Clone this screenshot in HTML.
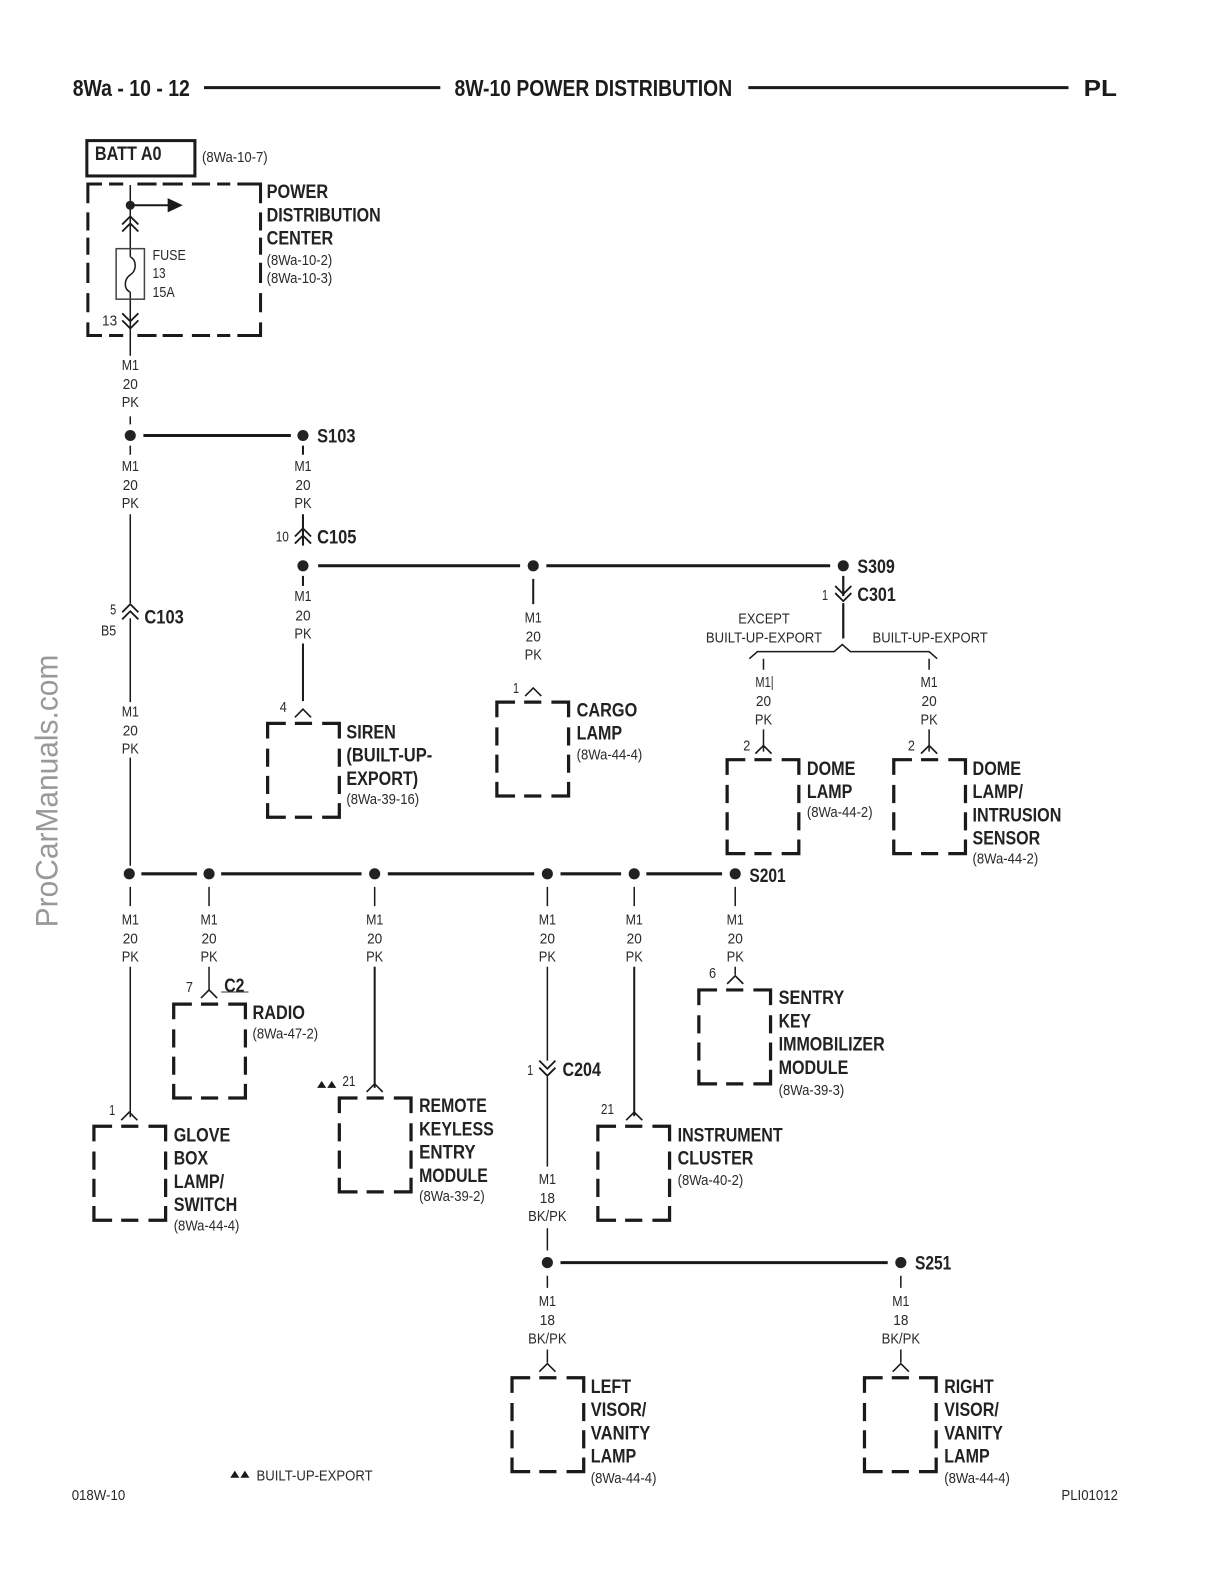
<!DOCTYPE html>
<html><head><meta charset="utf-8"><style>
html,body{margin:0;padding:0;background:#fff}
svg{display:block}
text{font-family:"Liberation Sans",sans-serif;fill:#2a2a2a;font-size:15px}
.b{font-weight:bold;font-size:19.5px;fill:#222}
.h{font-weight:bold;font-size:23px;fill:#1c1c1c}
.w{fill:none;stroke:#1a1a1a;stroke-width:1.5}
.w2{fill:none;stroke:#1a1a1a;stroke-width:2}
.t{fill:none;stroke:#1a1a1a;stroke-width:3}
.d{fill:#222}
</style></head><body>
<svg xmlns="http://www.w3.org/2000/svg" width="1224" height="1584" viewBox="0 0 1212 1568">
<defs>
<path id="box" fill="none" stroke="#1a1a1a" stroke-width="3.2" d="M1 16V1H19M28 1H45M55 1H72V16M1 26V44M1 53V71M1 80V94H19M28 94H45M55 94H72V80M72 26V44M72 53V71"/>
<path id="pin" fill="none" stroke="#1a1a1a" stroke-width="1.6" d="M-8 8L0 0L8 8"/>
<path id="dn" fill="none" stroke="#1a1a1a" stroke-width="1.8" d="M-8 -8L0 0L8 -8M-8 -1L0 7L8 -1"/>
<path id="up" fill="none" stroke="#1a1a1a" stroke-width="1.8" d="M-8 8L0 0L8 8M-8 1L0 -7L8 1"/>
</defs>

<!-- header -->
<text class="h" x="72" y="95" textLength="116" lengthAdjust="spacingAndGlyphs">8Wa - 10 - 12</text>
<path class="t" d="M202 86.5H436M741 86.5H1058"/>
<text class="h" x="450" y="95" textLength="275" lengthAdjust="spacingAndGlyphs">8W-10 POWER DISTRIBUTION</text>
<text class="h" x="1073" y="95" textLength="33" lengthAdjust="spacingAndGlyphs">PL</text>

<!-- watermark -->
<text x="0" y="0" transform="translate(57 918) rotate(-90)" textLength="270" lengthAdjust="spacingAndGlyphs" style="font-size:31px;fill:#999">ProCarManuals.com</text>

<!-- BATT + PDC -->
<rect x="86" y="139" width="107" height="35" fill="none" stroke="#1a1a1a" stroke-width="3"/>
<text class="b" x="94" y="158" textLength="66" lengthAdjust="spacingAndGlyphs">BATT A0</text>
<text x="200" y="160" textLength="65" lengthAdjust="spacingAndGlyphs">(8Wa-10-7)</text>
<path class="t" d="M87 201V182H101M108 182H122M136 182H155M161 182H181M190 182H208M215 182H228M235 182H258V201M87 210V228M87 235V252M87 260V280M87 290V309M87 319V332H101M108 332H122M136 332H155M161 332H181M190 332H208M215 332H228M235 332H258V319M258 210V228M258 235V252M258 260V280M258 290V309"/>
<path class="w" d="M129 183V254M129 289V352"/>
<circle class="d" cx="129" cy="203" r="4.5"/>
<path d="M129 203H167" stroke="#1a1a1a" stroke-width="2"/>
<path d="M166 196L181 203L166 210Z" fill="#1a1a1a"/>
<use href="#up" x="129" y="221"/>
<rect x="115" y="246" width="28" height="50" fill="none" stroke="#444" stroke-width="1.5"/>
<path class="w" d="M129 254C136 258 135 268 129 272C123 276 122 286 129 289"/>
<use href="#dn" x="129" y="318"/>
<text x="151" y="257" textLength="33" lengthAdjust="spacingAndGlyphs">FUSE</text>
<text x="151" y="275" textLength="13" lengthAdjust="spacingAndGlyphs">13</text>
<text x="151" y="294" textLength="22" lengthAdjust="spacingAndGlyphs">15A</text>
<text x="101" y="322" textLength="15" lengthAdjust="spacingAndGlyphs">13</text>
<text class="b" x="264" y="196" textLength="61" lengthAdjust="spacingAndGlyphs">POWER</text>
<text class="b" x="264" y="219" textLength="113" lengthAdjust="spacingAndGlyphs">DISTRIBUTION</text>
<text class="b" x="264" y="242" textLength="66" lengthAdjust="spacingAndGlyphs">CENTER</text>
<text x="264" y="262" textLength="65" lengthAdjust="spacingAndGlyphs">(8Wa-10-2)</text>
<text x="264" y="280" textLength="65" lengthAdjust="spacingAndGlyphs">(8Wa-10-3)</text>

<!-- wires -->
<path class="w" d="M129 412V420M129 441V450M129 509V597M129 612V695M129 750V857M129 878V897M129 957V1106
M207 878V897M207 957V981M371 878V897M542 878V897M542 957V1050M542 1066V1155M542 1216V1238M542 1263V1275M542 1336V1349
M628 878V897M728 878V897M728 957V965M892 1263V1275M892 1336V1349
M756 652V663M920 652V663M756 722V744M920 722V744"/>
<path class="w2" d="M371 957V1077M628 957V1105M300 441V450M300 509V540M300 570V580M300 637V694M528 573V598"/>
<path class="t" d="M142 431H288M315 560H515M541 560H822M140 865H195M219 865H358M384 865H529M555 865H615M640 865H715M555 1250H879"/>
<path d="M835 570V590M835 597V632" stroke="#1a1a1a" stroke-width="2.2" fill="none"/>
<path class="w" d="M742 652L750 645H826L834 638L842 645H920L928 652"/>

<!-- splices -->
<g class="d">
<circle cx="129" cy="431" r="5.5"/><circle cx="300" cy="431" r="5.5"/><circle cx="300" cy="560" r="5.5"/><circle cx="528" cy="560" r="5.5"/><circle cx="835" cy="560" r="5.5"/>
<circle cx="128" cy="865" r="5.5"/><circle cx="207" cy="865" r="5.5"/><circle cx="371" cy="865" r="5.5"/><circle cx="542" cy="865" r="5.5"/><circle cx="628" cy="865" r="5.5"/><circle cx="728" cy="865" r="5.5"/>
<circle cx="542" cy="1250" r="5.5"/><circle cx="892" cy="1250" r="5.5"/>
</g>

<!-- connectors -->
<use href="#up" x="300" y="530"/>
<use href="#up" x="129" y="605"/>
<use href="#dn" x="835" y="588"/>
<use href="#dn" x="542" y="1058"/>

<text class="b" x="314" y="438" textLength="38" lengthAdjust="spacingAndGlyphs">S103</text>
<text class="b" x="314" y="538" textLength="39" lengthAdjust="spacingAndGlyphs">C105</text>
<text x="273" y="536" textLength="13" lengthAdjust="spacingAndGlyphs">10</text>
<text class="b" x="849" y="567" textLength="37" lengthAdjust="spacingAndGlyphs">S309</text>
<text class="b" x="849" y="595" textLength="38" lengthAdjust="spacingAndGlyphs">C301</text>
<text x="814" y="594" textLength="6" lengthAdjust="spacingAndGlyphs">1</text>
<text class="b" x="143" y="617" textLength="39" lengthAdjust="spacingAndGlyphs">C103</text>
<text x="109" y="608" textLength="6" lengthAdjust="spacingAndGlyphs">5</text>
<text x="100" y="629" textLength="15" lengthAdjust="spacingAndGlyphs">B5</text>
<text class="b" x="742" y="873" textLength="36" lengthAdjust="spacingAndGlyphs">S201</text>
<text class="b" x="557" y="1065" textLength="38" lengthAdjust="spacingAndGlyphs">C204</text>
<text x="522" y="1064" textLength="6" lengthAdjust="spacingAndGlyphs">1</text>
<text class="b" x="906" y="1257" textLength="36" lengthAdjust="spacingAndGlyphs">S251</text>
<text x="731" y="617" textLength="51" lengthAdjust="spacingAndGlyphs">EXCEPT</text>
<text x="699" y="636" textLength="115" lengthAdjust="spacingAndGlyphs">BUILT-UP-EXPORT</text>
<text x="864" y="636" textLength="114" lengthAdjust="spacingAndGlyphs">BUILT-UP-EXPORT</text>

<!-- wire labels -->
<g text-anchor="middle">
<text x="129" y="366" textLength="17" lengthAdjust="spacingAndGlyphs">M1</text><text x="129" y="385" textLength="15" lengthAdjust="spacingAndGlyphs">20</text><text x="129" y="403" textLength="17" lengthAdjust="spacingAndGlyphs">PK</text>
<text x="129" y="466" textLength="17" lengthAdjust="spacingAndGlyphs">M1</text><text x="129" y="485" textLength="15" lengthAdjust="spacingAndGlyphs">20</text><text x="129" y="503" textLength="17" lengthAdjust="spacingAndGlyphs">PK</text>
<text x="300" y="466" textLength="17" lengthAdjust="spacingAndGlyphs">M1</text><text x="300" y="485" textLength="15" lengthAdjust="spacingAndGlyphs">20</text><text x="300" y="503" textLength="17" lengthAdjust="spacingAndGlyphs">PK</text>
<text x="300" y="595" textLength="17" lengthAdjust="spacingAndGlyphs">M1</text><text x="300" y="614" textLength="15" lengthAdjust="spacingAndGlyphs">20</text><text x="300" y="632" textLength="17" lengthAdjust="spacingAndGlyphs">PK</text>
<text x="528" y="616" textLength="17" lengthAdjust="spacingAndGlyphs">M1</text><text x="528" y="635" textLength="15" lengthAdjust="spacingAndGlyphs">20</text><text x="528" y="653" textLength="17" lengthAdjust="spacingAndGlyphs">PK</text>
<text x="757" y="680" textLength="18" lengthAdjust="spacingAndGlyphs">M1|</text><text x="756" y="699" textLength="15" lengthAdjust="spacingAndGlyphs">20</text><text x="756" y="717" textLength="17" lengthAdjust="spacingAndGlyphs">PK</text>
<text x="920" y="680" textLength="17" lengthAdjust="spacingAndGlyphs">M1</text><text x="920" y="699" textLength="15" lengthAdjust="spacingAndGlyphs">20</text><text x="920" y="717" textLength="17" lengthAdjust="spacingAndGlyphs">PK</text>
<text x="129" y="709" textLength="17" lengthAdjust="spacingAndGlyphs">M1</text><text x="129" y="728" textLength="15" lengthAdjust="spacingAndGlyphs">20</text><text x="129" y="746" textLength="17" lengthAdjust="spacingAndGlyphs">PK</text>
<text x="129" y="915" textLength="17" lengthAdjust="spacingAndGlyphs">M1</text><text x="129" y="934" textLength="15" lengthAdjust="spacingAndGlyphs">20</text><text x="129" y="952" textLength="17" lengthAdjust="spacingAndGlyphs">PK</text>
<text x="207" y="915" textLength="17" lengthAdjust="spacingAndGlyphs">M1</text><text x="207" y="934" textLength="15" lengthAdjust="spacingAndGlyphs">20</text><text x="207" y="952" textLength="17" lengthAdjust="spacingAndGlyphs">PK</text>
<text x="371" y="915" textLength="17" lengthAdjust="spacingAndGlyphs">M1</text><text x="371" y="934" textLength="15" lengthAdjust="spacingAndGlyphs">20</text><text x="371" y="952" textLength="17" lengthAdjust="spacingAndGlyphs">PK</text>
<text x="542" y="915" textLength="17" lengthAdjust="spacingAndGlyphs">M1</text><text x="542" y="934" textLength="15" lengthAdjust="spacingAndGlyphs">20</text><text x="542" y="952" textLength="17" lengthAdjust="spacingAndGlyphs">PK</text>
<text x="628" y="915" textLength="17" lengthAdjust="spacingAndGlyphs">M1</text><text x="628" y="934" textLength="15" lengthAdjust="spacingAndGlyphs">20</text><text x="628" y="952" textLength="17" lengthAdjust="spacingAndGlyphs">PK</text>
<text x="728" y="915" textLength="17" lengthAdjust="spacingAndGlyphs">M1</text><text x="728" y="934" textLength="15" lengthAdjust="spacingAndGlyphs">20</text><text x="728" y="952" textLength="17" lengthAdjust="spacingAndGlyphs">PK</text>
<text x="542" y="1172" textLength="17" lengthAdjust="spacingAndGlyphs">M1</text><text x="542" y="1191" textLength="15" lengthAdjust="spacingAndGlyphs">18</text><text x="542" y="1209" textLength="38" lengthAdjust="spacingAndGlyphs">BK/PK</text>
<text x="542" y="1293" textLength="17" lengthAdjust="spacingAndGlyphs">M1</text><text x="542" y="1312" textLength="15" lengthAdjust="spacingAndGlyphs">18</text><text x="542" y="1330" textLength="38" lengthAdjust="spacingAndGlyphs">BK/PK</text>
<text x="892" y="1293" textLength="17" lengthAdjust="spacingAndGlyphs">M1</text><text x="892" y="1312" textLength="15" lengthAdjust="spacingAndGlyphs">18</text><text x="892" y="1330" textLength="38" lengthAdjust="spacingAndGlyphs">BK/PK</text>
</g>

<!-- boxes + pins -->
<use href="#box" x="264" y="715"/><use href="#pin" x="300" y="702"/>
<use href="#box" x="491" y="694"/><use href="#pin" x="528" y="681"/>
<use href="#box" x="719" y="751"/><use href="#pin" x="756" y="738"/>
<use href="#box" x="884" y="751"/><use href="#pin" x="920" y="738"/>
<use href="#box" x="171" y="993"/><use href="#pin" x="207" y="980"/>
<use href="#box" x="691" y="979"/><use href="#pin" x="728" y="966"/>
<use href="#box" x="335" y="1086"/><use href="#pin" x="371" y="1073"/>
<use href="#box" x="92" y="1114"/><use href="#pin" x="128" y="1101"/>
<use href="#box" x="591" y="1114"/><use href="#pin" x="628" y="1101"/>
<use href="#box" x="506" y="1363"/><use href="#pin" x="542" y="1350"/>
<use href="#box" x="855" y="1363"/><use href="#pin" x="892" y="1350"/>

<!-- pin numbers -->
<text x="277" y="705" textLength="7" lengthAdjust="spacingAndGlyphs">4</text>
<text x="508" y="686" textLength="6" lengthAdjust="spacingAndGlyphs">1</text>
<text x="736" y="743" textLength="7" lengthAdjust="spacingAndGlyphs">2</text>
<text x="899" y="743" textLength="7" lengthAdjust="spacingAndGlyphs">2</text>
<text x="184" y="982" textLength="7" lengthAdjust="spacingAndGlyphs">7</text>
<text x="702" y="968" textLength="7" lengthAdjust="spacingAndGlyphs">6</text>
<text x="339" y="1075" textLength="13" lengthAdjust="spacingAndGlyphs">21</text>
<path d="M314 1077L318.500 1070L323 1077ZM324 1077L328.500 1070L333 1077Z" fill="#1a1a1a"/>
<text x="108" y="1104" textLength="6" lengthAdjust="spacingAndGlyphs">1</text>
<text x="595" y="1103" textLength="13" lengthAdjust="spacingAndGlyphs">21</text>

<!-- component labels -->
<text class="b" x="343" y="731" textLength="49" lengthAdjust="spacingAndGlyphs">SIREN</text>
<text class="b" x="343" y="754" textLength="85" lengthAdjust="spacingAndGlyphs">(BUILT-UP-</text>
<text class="b" x="343" y="777" textLength="71" lengthAdjust="spacingAndGlyphs">EXPORT)</text>
<text x="343" y="796" textLength="72" lengthAdjust="spacingAndGlyphs">(8Wa-39-16)</text>

<text class="b" x="571" y="709" textLength="60" lengthAdjust="spacingAndGlyphs">CARGO</text>
<text class="b" x="571" y="732" textLength="45" lengthAdjust="spacingAndGlyphs">LAMP</text>
<text x="571" y="752" textLength="65" lengthAdjust="spacingAndGlyphs">(8Wa-44-4)</text>

<text class="b" x="799" y="767" textLength="48" lengthAdjust="spacingAndGlyphs">DOME</text>
<text class="b" x="799" y="790" textLength="45" lengthAdjust="spacingAndGlyphs">LAMP</text>
<text x="799" y="809" textLength="65" lengthAdjust="spacingAndGlyphs">(8Wa-44-2)</text>

<text class="b" x="963" y="767" textLength="48" lengthAdjust="spacingAndGlyphs">DOME</text>
<text class="b" x="963" y="790" textLength="50" lengthAdjust="spacingAndGlyphs">LAMP/</text>
<text class="b" x="963" y="813" textLength="88" lengthAdjust="spacingAndGlyphs">INTRUSION</text>
<text class="b" x="963" y="836" textLength="67" lengthAdjust="spacingAndGlyphs">SENSOR</text>
<text x="963" y="855" textLength="65" lengthAdjust="spacingAndGlyphs">(8Wa-44-2)</text>

<text class="b" x="222" y="982" textLength="20" lengthAdjust="spacingAndGlyphs">C2</text>
<path d="M219 982H246" stroke="#333" stroke-width="1"/>
<text class="b" x="250" y="1009" textLength="52" lengthAdjust="spacingAndGlyphs">RADIO</text>
<text x="250" y="1028" textLength="65" lengthAdjust="spacingAndGlyphs">(8Wa-47-2)</text>

<text class="b" x="771" y="994" textLength="65" lengthAdjust="spacingAndGlyphs">SENTRY</text>
<text class="b" x="771" y="1017" textLength="32" lengthAdjust="spacingAndGlyphs">KEY</text>
<text class="b" x="771" y="1040" textLength="105" lengthAdjust="spacingAndGlyphs">IMMOBILIZER</text>
<text class="b" x="771" y="1063" textLength="69" lengthAdjust="spacingAndGlyphs">MODULE</text>
<text x="771" y="1084" textLength="65" lengthAdjust="spacingAndGlyphs">(8Wa-39-3)</text>

<text class="b" x="172" y="1130" textLength="56" lengthAdjust="spacingAndGlyphs">GLOVE</text>
<text class="b" x="172" y="1153" textLength="34" lengthAdjust="spacingAndGlyphs">BOX</text>
<text class="b" x="172" y="1176" textLength="50" lengthAdjust="spacingAndGlyphs">LAMP/</text>
<text class="b" x="172" y="1199" textLength="63" lengthAdjust="spacingAndGlyphs">SWITCH</text>
<text x="172" y="1218" textLength="65" lengthAdjust="spacingAndGlyphs">(8Wa-44-4)</text>

<text class="b" x="415" y="1101" textLength="67" lengthAdjust="spacingAndGlyphs">REMOTE</text>
<text class="b" x="415" y="1124" textLength="74" lengthAdjust="spacingAndGlyphs">KEYLESS</text>
<text class="b" x="415" y="1147" textLength="56" lengthAdjust="spacingAndGlyphs">ENTRY</text>
<text class="b" x="415" y="1170" textLength="68" lengthAdjust="spacingAndGlyphs">MODULE</text>
<text x="415" y="1189" textLength="65" lengthAdjust="spacingAndGlyphs">(8Wa-39-2)</text>

<text class="b" x="671" y="1130" textLength="104" lengthAdjust="spacingAndGlyphs">INSTRUMENT</text>
<text class="b" x="671" y="1153" textLength="75" lengthAdjust="spacingAndGlyphs">CLUSTER</text>
<text x="671" y="1173" textLength="65" lengthAdjust="spacingAndGlyphs">(8Wa-40-2)</text>

<text class="b" x="585" y="1379" textLength="40" lengthAdjust="spacingAndGlyphs">LEFT</text>
<text class="b" x="585" y="1402" textLength="55" lengthAdjust="spacingAndGlyphs">VISOR/</text>
<text class="b" x="585" y="1425" textLength="59" lengthAdjust="spacingAndGlyphs">VANITY</text>
<text class="b" x="585" y="1448" textLength="45" lengthAdjust="spacingAndGlyphs">LAMP</text>
<text x="585" y="1468" textLength="65" lengthAdjust="spacingAndGlyphs">(8Wa-44-4)</text>

<text class="b" x="935" y="1379" textLength="49" lengthAdjust="spacingAndGlyphs">RIGHT</text>
<text class="b" x="935" y="1402" textLength="54" lengthAdjust="spacingAndGlyphs">VISOR/</text>
<text class="b" x="935" y="1425" textLength="58" lengthAdjust="spacingAndGlyphs">VANITY</text>
<text class="b" x="935" y="1448" textLength="45" lengthAdjust="spacingAndGlyphs">LAMP</text>
<text x="935" y="1468" textLength="65" lengthAdjust="spacingAndGlyphs">(8Wa-44-4)</text>

<!-- footer -->
<path d="M228 1463L232.500 1456L237 1463ZM238 1463L242.500 1456L247 1463Z" fill="#1a1a1a"/>
<text x="254" y="1466" textLength="115" lengthAdjust="spacingAndGlyphs">BUILT-UP-EXPORT</text>
<text x="71" y="1485" textLength="53" lengthAdjust="spacingAndGlyphs">018W-10</text>
<text x="1051" y="1485" textLength="56" lengthAdjust="spacingAndGlyphs">PLI01012</text>
</svg>
</body></html>
